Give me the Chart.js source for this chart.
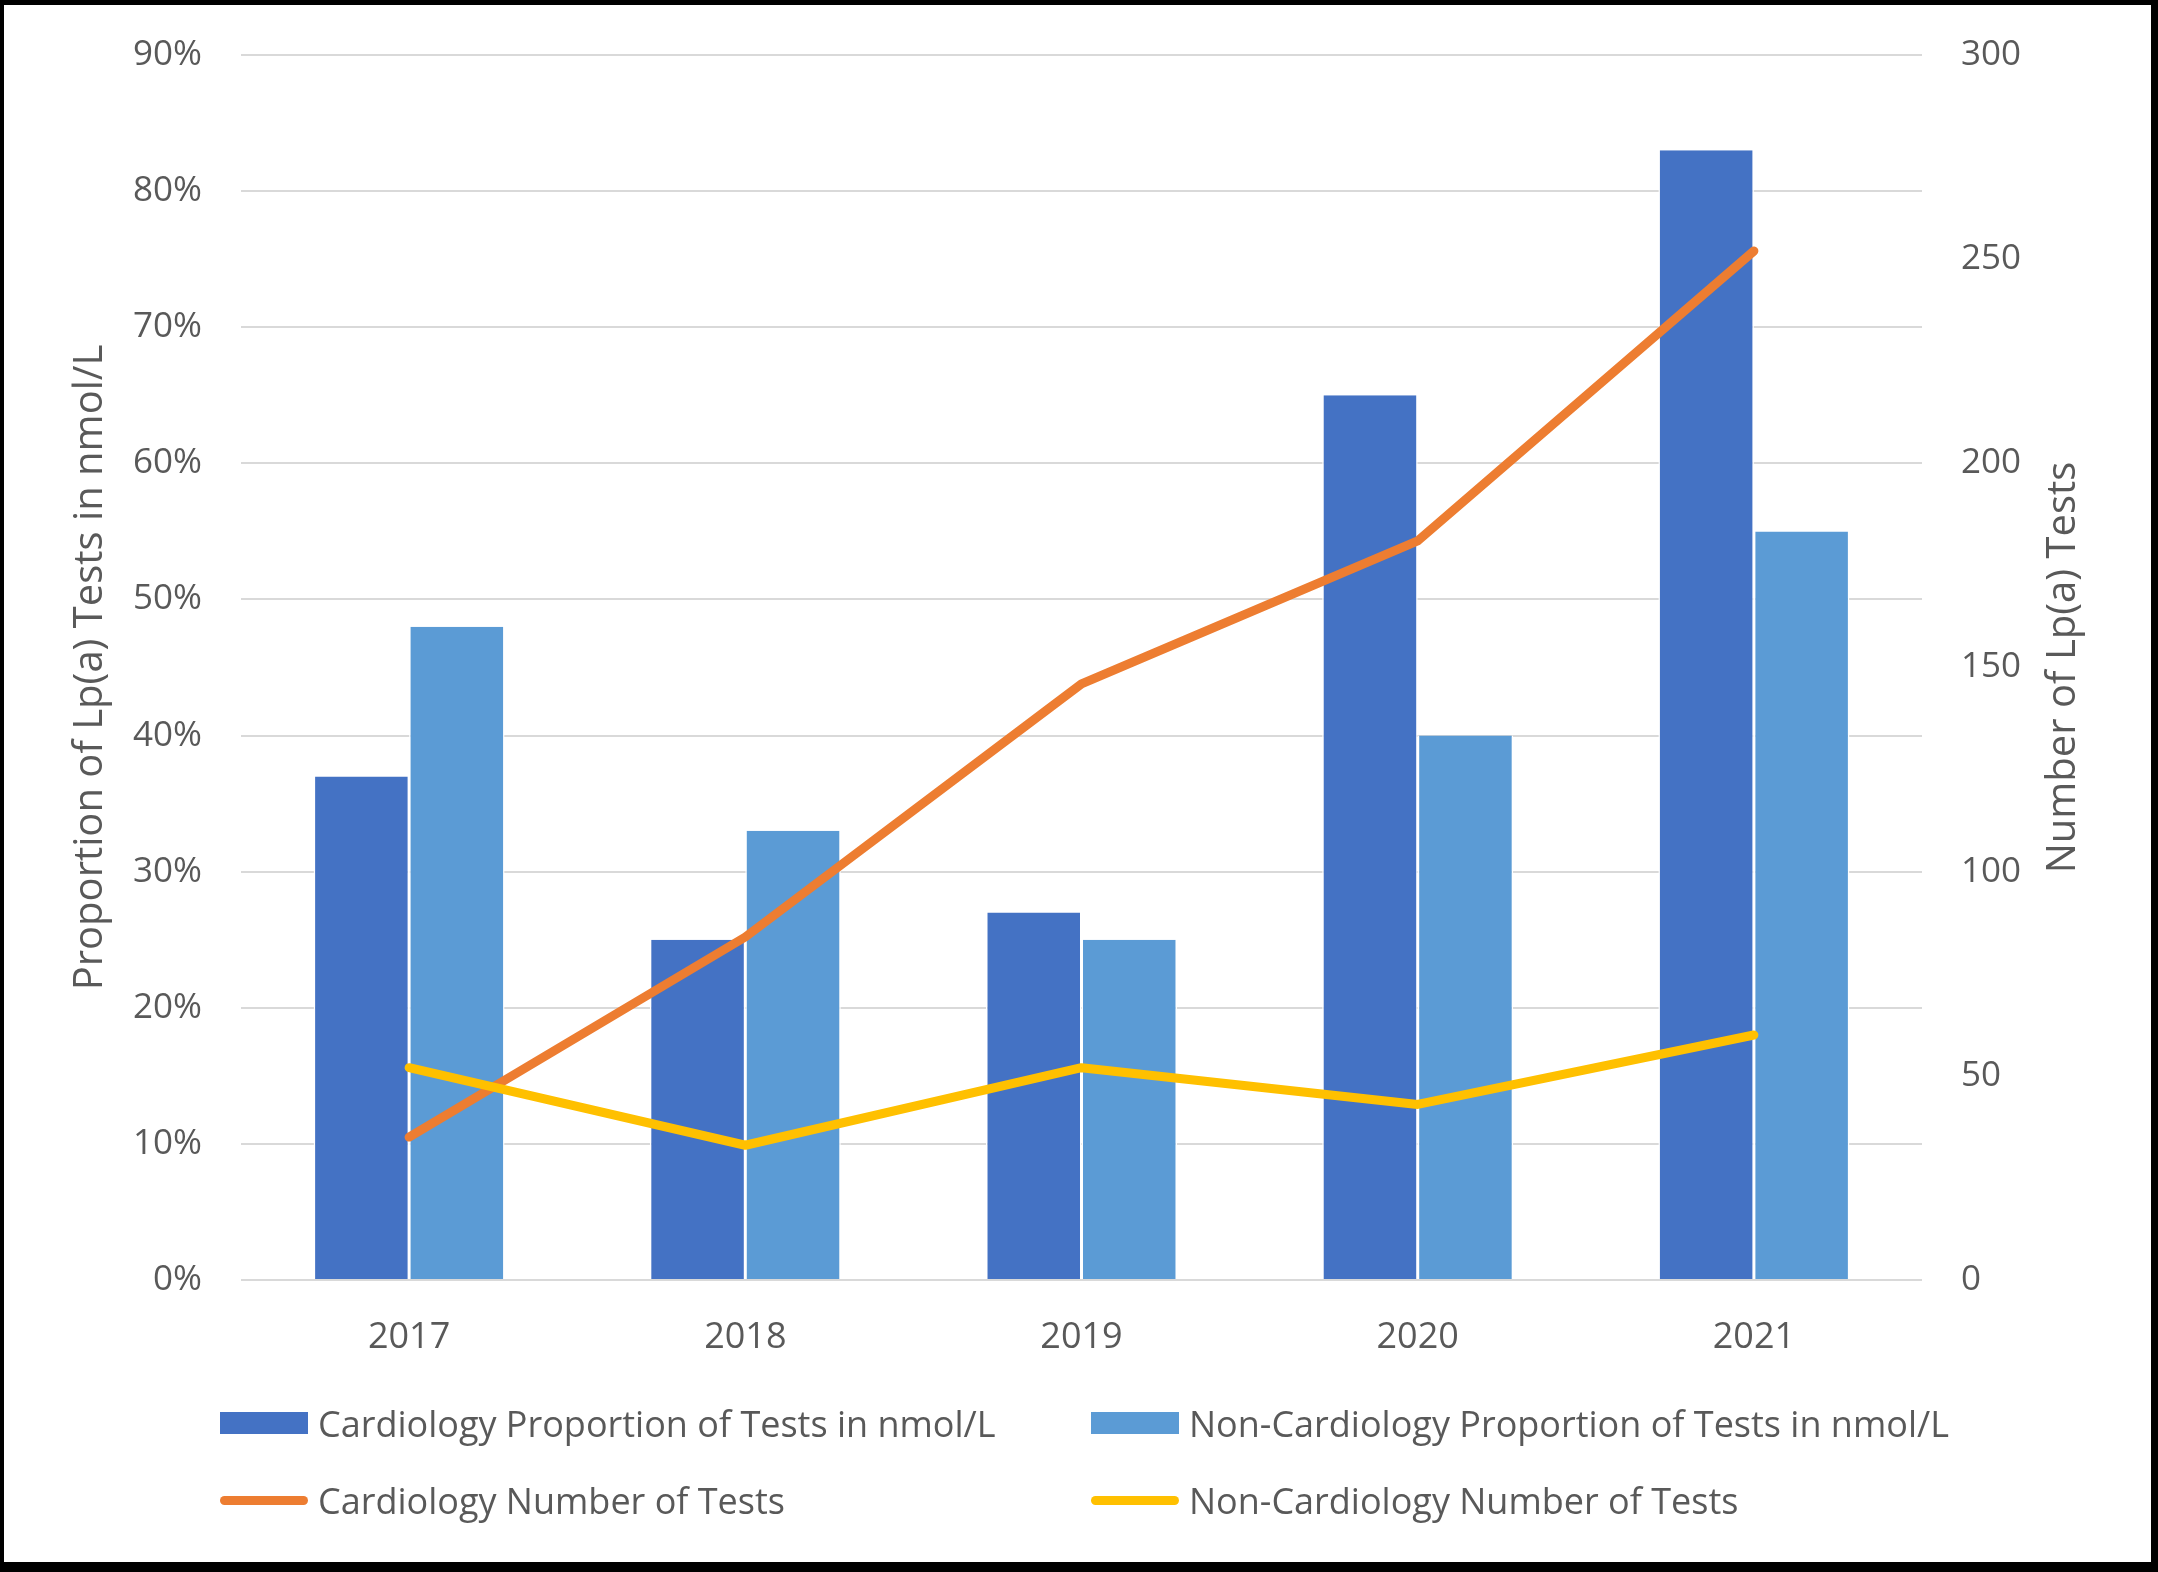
<!DOCTYPE html>
<html>
<head>
<meta charset="utf-8">
<script src="https://cdn.jsdelivr.net/npm/chart.js@4.4.1/dist/chart.umd.min.js"></script>
<style>
    body { margin: 0; background: #000; width: 2158px; height: 1572px; overflow: hidden; font-family: "Open Sans", sans-serif; }
    #box { position: absolute; left: 4px; top: 5px; width: 2147px; height: 1557px; background: #fff; }
    #box canvas { position: absolute; left: 0; top: 0; }
    #legend { position: absolute; left: 216px; top: 1392px; display: grid; grid-template-columns: 871px auto; row-gap: 25px; }
    .item { display: flex; align-items: center; height: 52px; font-size: 36px; color: #595959; white-space: nowrap; }
    .sw { display: inline-block; width: 88px; margin-right: 10px; }
    .sw.bar { height: 22px; }
    .sw.line { height: 9px; border-radius: 5px; }
</style>
</head>
<body>
<div id="box">
    <canvas id="chart" width="2147" height="1557"></canvas>
    <div id="legend"></div>
</div>
<script>
const years = ["2017", "2018", "2019", "2020", "2021"];
const cardioPct = [37, 25, 27, 65, 83];
const nonCardioPct = [48, 33, 25, 40, 55];
const cardioTests = [35, 84, 146, 181, 252];
const nonCardioTests = [52, 33, 52, 43, 60];

const leftTitle = "Proportion of Lp(a) Tests in nmol/L";
const rightTitle = "Number of Lp(a) Tests";
const grey = "#595959";

// titre de droite, lu de bas en haut comme dans Excel
const rightTitlePlugin = {
    id: "rightTitle",
    afterDraw(chart) {
        let ctx = chart.ctx;
        let area = chart.chartArea;
        ctx.save();
        ctx.translate(chart.width - 87, (area.top + area.bottom) / 2);
        ctx.rotate(-Math.PI / 2);
        ctx.font = "40px 'Open Sans'";
        ctx.fillStyle = grey;
        ctx.textAlign = "center";
        ctx.textBaseline = "middle";
        ctx.fillText(rightTitle, 0, 0);
        ctx.restore();
    }
};

let datasets = [
    { type: "line", label: "Cardiology Number of Tests", data: cardioTests, yAxisID: "y1",
      borderColor: "#ED7D31", borderWidth: 9, pointRadius: 0, borderCapStyle: "round", borderJoinStyle: "round", order: 1 },
    { type: "line", label: "Non-Cardiology Number of Tests", data: nonCardioTests, yAxisID: "y1",
      borderColor: "#FFC000", borderWidth: 9, pointRadius: 0, borderCapStyle: "round", borderJoinStyle: "round", order: 0 },
    { type: "bar", label: "Cardiology Proportion of Tests in nmol/L", data: cardioPct, yAxisID: "y",
      backgroundColor: "#4472C4", borderColor: "#fff", borderWidth: { left: 1.5, right: 1.5 }, order: 2 },
    { type: "bar", label: "Non-Cardiology Proportion of Tests in nmol/L", data: nonCardioPct, yAxisID: "y",
      backgroundColor: "#5B9BD5", borderColor: "#fff", borderWidth: { left: 1.5, right: 1.5 }, order: 3 }
];

// largeur fixe des axes verticaux, sans marge en haut (la marge vient du layout)
function fixWidth(w) {
    return s => {
        s.width = w;
        s.paddingTop = 0;
    };
}

let ctx = document.getElementById("chart").getContext("2d");
new Chart(ctx, {
    data: { labels: years, datasets: datasets },
    options: {
        responsive: false,
        devicePixelRatio: 1,
        animation: false,
        layout: { padding: { top: 50, left: 0, right: 0, bottom: 0 } },
        datasets: { bar: { categoryPercentage: 0.568, barPercentage: 1 } },
        scales: {
            x: {
                grid: { display: false },
                border: { display: false },
                ticks: { color: grey, font: { family: "Open Sans", size: 36 }, padding: 28 },
                afterFit: s => { s.height = 282; }
            },
            y: {
                position: "left",
                min: 0, max: 90,
                ticks: { stepSize: 10, color: grey, font: { family: "Open Sans", size: 35 }, padding: 39, callback: v => v + "%" },
                grid: { color: "#d9d9d9", lineWidth: 2, drawTicks: false },
                border: { display: false },
                title: { display: true, text: leftTitle, color: grey, font: { family: "Open Sans", size: 40 }, padding: { top: 63, bottom: 0 } },
                afterFit: fixWidth(237)
            },
            y1: {
                position: "right",
                min: 0, max: 300,
                ticks: { stepSize: 50, color: grey, font: { family: "Open Sans", size: 35 }, padding: 39 },
                grid: { display: false, drawTicks: false },
                border: { display: false },
                afterFit: fixWidth(229)
            }
        },
        plugins: {
            legend: { display: false },
            tooltip: { enabled: false }
        }
    },
    plugins: [rightTitlePlugin]
});

// légende faite à la main pour garder les deux colonnes alignées
let legendOrder = [2, 3, 0, 1];
let legend = document.getElementById("legend");
legendOrder.forEach(i => {
    let ds = datasets[i];
    let item = document.createElement("div");
    item.className = "item";
    let sw = document.createElement("span");
    sw.className = "sw " + ds.type;
    sw.style.background = ds.type === "bar" ? ds.backgroundColor : ds.borderColor;
    item.appendChild(sw);
    item.appendChild(document.createTextNode(ds.label));
    legend.appendChild(item);
});
</script>
</body>
</html>
